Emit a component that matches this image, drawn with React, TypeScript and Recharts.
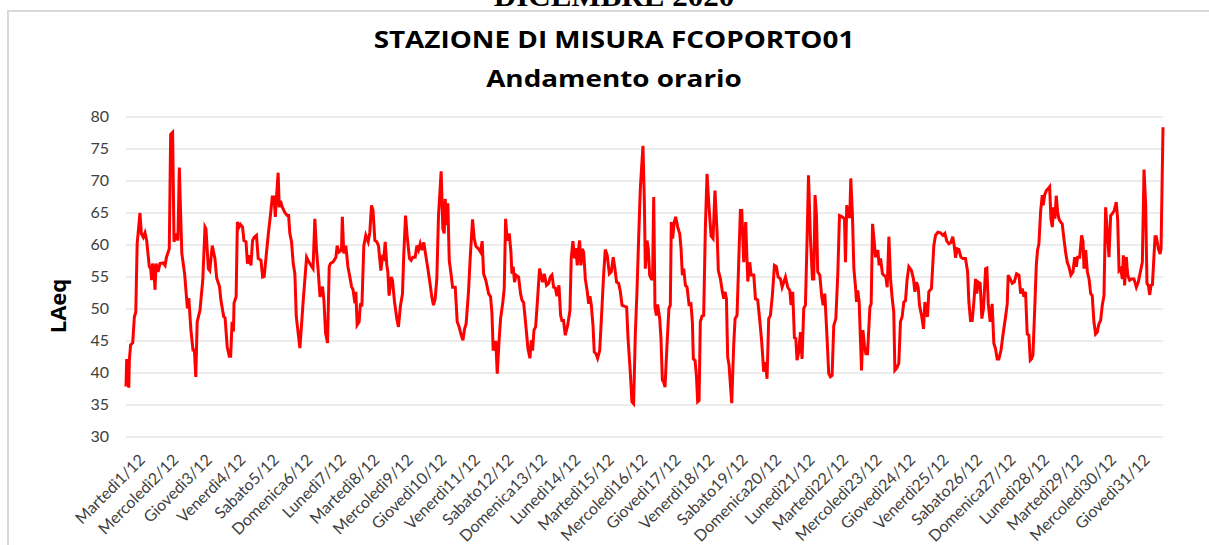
import React from "react";
import { LineChart, Line, XAxis, YAxis, CartesianGrid } from "recharts";

// one label per day, first hour of each day
const dayLabels = [
    "Martedì1/12", "Mercoledì2/12", "Giovedì3/12", "Venerdì4/12", "Sabato5/12",
    "Domenica6/12", "Lunedì7/12", "Martedì8/12", "Mercoledì9/12", "Giovedì10/12",
    "Venerdì11/12", "Sabato12/12", "Domenica13/12", "Lunedì14/12", "Martedì15/12",
    "Mercoledì16/12", "Giovedì17/12", "Venerdì18/12", "Sabato19/12", "Domenica20/12",
    "Lunedì21/12", "Martedì22/12", "Mercoledì23/12", "Giovedì24/12", "Venerdì25/12",
    "Sabato26/12", "Domenica27/12", "Lunedì28/12", "Martedì29/12", "Mercoledì30/12",
    "Giovedì31/12",
];
const dayTicks = dayLabels.map((_, i) => i * 24);
const yTicks = [30, 35, 40, 45, 50, 55, 60, 65, 70, 75, 80];

// hour of the month (0 = 1/12 00:00) and LAeq
const hours = [
    0, 0.5, 2, 2.4, 3.3, 4.8, 6, 7, 8, 10, 11, 12.4, 13.6, 14.8, 16.7, 17.7, 18.4, 19, 20, 20.8,
    21.5, 23, 24.3, 26.7, 28, 29, 31, 32, 33.4, 34.4, 35.8, 37.2, 38.2, 39, 40, 42, 44, 45, 46.5, 48,
    49, 50, 51, 53, 55, 56.6, 57.3, 59, 60, 61.8, 63.7, 65, 67, 68, 70, 71, 72.5, 74, 75, 76,
    77, 77.4, 78.9, 79.8, 81, 82, 83.5, 84.5, 86, 87, 88.3, 89.5, 90.7, 91.9, 93.5, 94.7, 96.7, 97.9, 99, 102,
    103.6, 104.8, 106, 107, 108, 109, 109.8, 110.7, 112, 113.8, 115.5, 116.5, 117.4, 118.6, 119.8, 121, 122, 124.6, 127, 129.4,
    131.7, 134, 135.3, 136.5, 137.7, 139, 140.8, 141.8, 143, 144.4, 145.6, 146.5, 148.5, 150.4, 151.3, 152.7, 154.4, 155, 156, 157.5,
    159, 160.4, 161.6, 162.7, 164, 164.7, 165.6, 167, 168, 169, 170.4, 171.8, 173.5, 174.7, 175.9, 177, 178.3,
    179.7, 180.9, 182.6, 183.8, 184.7, 185.7, 186.9, 187.6, 188.5, 190, 190.9, 192.4, 194, 195.2, 196.7, 198.1, 199, 200.3, 201.4, 203.1,
    204.3, 205.5, 207.2, 208.4, 209.6, 210.8, 212, 213.4, 214.4, 216.3, 218, 219.1, 220.3, 221.5, 222.7, 223.9, 225.8, 227, 228, 228.7,
    229.6, 230.6, 231.6, 233, 234, 235.9, 237.3, 238.7, 240.2, 241.4, 242.6, 243.7, 245.4, 246.6, 248.3, 249.5, 250.7, 252.6, 254, 255.2,
    256.2, 257.8, 259.8, 261.2, 262.2, 263.1, 264.1, 265, 266, 267.4, 268.4, 270, 271, 272, 273.1, 274.6, 275.8, 276.5, 277.4, 278.4,
    279.4, 281.3, 282.7, 283.7, 284.9, 286.5, 288, 289.4, 290.4, 291.3, 292.3, 293.5, 294.9, 296.3, 297.3, 298.5, 299.7, 301.3, 302.8, 304,
    305.2, 306.4, 307.6, 308.8, 310.2, 311.4, 312.3, 313.5, 314.7, 316.4, 318.1, 319, 320.2, 321.4, 322.4, 323.3, 324.3, 325, 325.9, 326.9,
    327.9, 329.1, 330.5, 331.5, 332.4, 333.4, 334.6, 335.5, 336.7, 337.9, 339.4, 341, 342.2, 343.4, 344.8, 346.3, 347.7, 349.1, 350.3, 351.5,
    353, 354.2, 355.4, 357.3, 358.7, 359.7, 361.3, 362.5, 363.7, 364.9, 366.1, 367.3, 368.5,
    370.4, 371.4, 372.1, 373.3, 374.2, 375.2, 376.4, 377.3, 378.1, 379, 380, 380.9, 382.4, 383.3, 384.3, 385.2, 386.2, 387.6, 389, 390,
    390.7, 391.7, 392.6, 393.8, 395.3, 396.7, 397.7, 398.6, 399.6, 400.8, 402, 403.4, 404.8, 405.8, 406.5, 407.7, 408.7, 409.6, 410.6, 411.5,
    412.7, 413.9, 415.1, 416.3, 417.5, 419.2, 420.6, 422, 423.5, 424.4, 425.9, 427.3, 428.3, 429.2, 430.2, 431.1, 432.1, 433, 434, 435.4,
    436.4, 437.8, 439, 440.2, 441.2, 442.6, 444, 445.5, 446.9, 447.9, 449.8, 451, 452.6, 454.1, 455.5, 456.9, 458.1, 459.3, 460.5, 461.7,
    463.1, 464.6, 466, 467.2, 468.9, 470.1, 471.3, 472.5, 474.1, 475.6, 476.5, 477.7, 478.9, 479.9, 480.8, 482, 483.2, 484.4, 485.6, 486.8,
    488, 489, 490.4, 491.8, 492.8, 493.7, 494.7, 495.6, 497.1, 498.5, 499.5, 500.7, 502.3, 503.5, 504.7, 505.9, 507.1, 508.6, 510, 511.2,
    513.1, 514.8, 515.5, 516.4, 517.6, 518.6, 519.3, 520.5, 521.5, 522.7, 523.4, 524.3, 525.3, 526.2, 527, 528, 529.1, 530.1, 531.3, 533,
    533.9, 534.9, 536.1, 537, 538.7, 539.6, 540.6, 542, 543, 544.4, 545.4, 546.6, 547.8, 549, 550.1, 550.9, 552.1, 553.7, 554.9, 556.1,
    557.3,
    558.5, 559.7, 560.9, 562.8, 564.2, 565.2, 566.4, 567.6, 568.5, 570, 571.4, 572.4, 573.3, 574.3, 575.2, 577.1, 578.8, 580, 581.7, 583.6,
    585.3, 586.7, 588.1, 589.6, 591, 592.4, 593.4, 594.4, 595.5, 596.7, 598.2, 599.6, 601.5, 603, 603.9, 605.1, 606.3, 607.5, 608.7, 609.6,
    610.6, 612, 613.2, 614.4, 615.9, 616.8, 617.8, 619.2, 620.6, 621.8, 623, 624.2, 625.4, 626.9, 628.3, 630.2, 631.4, 632.1, 633.5, 635,
    636.4, 638.1, 639.8, 641, 642.2, 643.3, 644.5, 645.7, 646.9, 647.9, 648.8, 649.8, 651.2, 652.2, 653.1, 654.1, 655.3, 656.5, 657.2, 658.2,
    659.4, 660.8, 661.8, 662.7, 663.7, 664.6, 665.6, 666.5, 667.5, 668.4, 669.6, 670.8, 672, 673.2, 674.4, 675.6, 677, 678.5, 679.7, 680.9,
    681.8, 683.3, 684.7, 685.7, 686.4, 687.6, 688.8, 690, 691.2, 692.3, 693.5, 694.7, 695.9, 697.1, 698.3, 699.5, 700.7, 701.9, 703.1, 704.3,
    705.5, 706.7, 708.1, 709.5, 710.5, 711.5, 712.7, 713.9, 714.6, 715.5, 716.7, 717.7, 719.1, 720.5, 722.2, 723.9, 725.3, 726.5, 728.2, 729.4,
    730.6, 731.5, 732.5, 733.5, 734.4, 735.4, 737.3, 738.2, 739.7, 740.9, 741.6, 743,
];
const laeq = [
    37.9, 42.2, 37.7, 42, 44.4, 44.7, 48.8, 49.5, 60.2, 65, 61.8, 61.2, 61.9, 60.7, 56.6, 56.3, 54.5, 57.1, 56, 53,
    57.1, 55.8, 57.1, 57.2, 56.8, 58.1, 59.4, 77.3, 77.6, 60.5, 61.8, 60.7, 72.1, 65.9, 58.7, 55.5, 50.1, 51.7, 46.7, 43.6,
    43.6, 39.4, 48, 49.8, 54.5, 62.8, 62.5, 56.3, 56, 59.9, 57.9, 54.8, 53.5, 51.4, 48.8, 48.6, 44.1, 42.6, 42.6, 48,
    46.5, 50.9, 51.9, 63.6, 62.8, 63.2, 62.8, 60.7, 60.5, 57.1, 58.4, 56.8, 60.7, 61.2, 61.5, 57.9, 57.6, 55, 55.1, 61.8,
    64.9, 67.5, 67.5, 64.4, 68, 71.3, 65.9, 66.9, 65.9, 65.1, 64.6, 64.6, 61.8, 60.5, 57.1, 55.5, 48.8, 43.9, 51.4, 58.1,
    57.1, 56.3, 64.1, 59.2, 56, 51.9, 53.5, 51.4, 46.2, 44.7, 56.6, 57.1, 57.4, 58.1, 59.9, 58.9, 59.2, 64.4, 58.7, 59.9,
    56.6, 55, 53.5, 53, 50.9, 52.7, 47.5, 48, 50.9, 50.4, 59.9, 61.5, 60.5, 62, 66.2, 65.4, 60.7,
    60.5, 59.9, 56, 58.1, 57.9, 60.5, 56.8, 55.8, 52.1, 55, 54.5, 51.1, 48.5, 47.2, 50.6, 52.4, 58.4, 64.6, 61.5, 57.9,
    57.6, 58.1, 58.1, 59.9, 59.2, 60.2, 59.2, 60.4, 58.9, 56.3, 53.7, 51.9, 50.6, 51.6, 54.7, 64.6, 71.5, 62.6, 61.8, 67.2,
    63.1, 66.5, 57.6, 55.3, 53.4, 53.4, 48, 47.2, 45.9, 45.1, 46.9, 47.7, 52.7, 57.9, 64, 61, 59.8, 59.4, 58.9, 60.6,
    55.5, 54.5, 52.4, 51.9, 49.3, 43.5, 44.8, 44.8, 39.9, 45.4, 48.5, 51.1, 53.2, 64.1, 60.7, 61.8, 58.9, 55.5, 56.6, 54.2,
    55.3, 55, 52.4, 51.4, 51, 47.4, 43.8, 42.3, 45.1, 43.5, 46.7, 47.2, 51.6, 56.3, 55.3, 54.2, 55.5, 53.7, 54, 55,
    55.3, 53.4, 53.3, 52, 53.7, 49, 48.2, 48.2, 45.9, 47.4, 49.8, 57.9, 60.6, 57.9, 59.5, 56.8, 59.4, 60.7, 56.8, 59.4,
    58.9, 54.7, 52.7, 50.8, 52, 50.6, 47.4, 43.3, 43, 42.3, 43.5, 50.1, 55.3, 59.3, 58.4, 55.5, 55.8, 58.1, 56.3, 54.2,
    54, 52.7, 50.6, 50.4, 50.3, 45.4, 40.2, 35.5, 35.2, 45.9, 52.7, 61, 68.8,
    75.5, 66.7, 56.3, 60.7, 59.4, 55.3, 54.7, 54.7, 67.5, 50.3, 49, 50.7, 48.5, 45.4, 38.9, 38.6, 37.8, 44.3, 50.1, 50.6,
    63.6, 61, 63.3, 64.4, 62.8, 61.8, 59.4, 55.3, 56.3, 53.7, 53.4, 50.7, 50.8, 48, 42.2, 42, 39.6, 35.5, 35.7, 48,
    48.9, 49, 62.6, 71.1, 66.7, 61.4, 61, 68.5, 62, 56, 54.7, 52.7, 51.6, 52.7, 51.6, 42.5, 41.2, 38.3, 35.3, 44.3,
    48.5, 49, 57.3, 65.4, 65.4, 57.3, 63.6, 54.3, 57.3, 55.3, 55.3, 51.6, 51.4, 48.2, 44.8, 40.2, 41.7, 39.1, 48.5, 49,
    52.1, 56.8, 56.6, 55, 54.7, 53.4, 54.2, 55, 53.4, 52.9, 50.6, 52.7, 45.5, 45.4, 42, 43.3, 46.4, 42.2, 50.1, 50.6,
    61, 70.9, 61, 54.7, 54.7, 67.8, 64.6, 55.8, 55.3, 51.9, 50.6, 52.4, 45.4, 39.9, 39.4, 39.6, 47.4, 48.5, 55.5, 64.6,
    64.4, 64.1, 57.3, 66.2, 64.4, 64.4, 70.4, 64.6, 56.3, 53.4, 51.1, 52.9, 51.1, 45.4, 40.4, 46.7, 44.3, 43, 43, 50.3,
    50.8, 63.3, 60.5, 58.1, 59.2, 56.8, 57.9, 55.5, 55.3, 55, 53.4, 61.3, 54.7, 51.6, 49.5, 40.4, 40.7, 41.5, 48, 48.8,
    51.1,
    51.3, 54.7, 56.6, 56, 54.7, 52.7, 54.2, 53.4, 50.6, 49, 46.9, 51.1, 49.5, 48.8, 52.7, 53.2, 59.9, 61.5, 62, 61.9,
    61.5, 61.8, 60.6, 60.2, 60.4, 61.3, 59.9, 58, 59.4, 59.3, 58.1, 57.9, 57.9, 55.8, 51.1, 48.2, 48.2, 51.1, 54.7, 52.4,
    54.2, 54, 48.5, 50.1, 56.3, 56.4, 50.8, 48, 50.8, 44.6, 43.8, 42.2, 42.2, 43.5, 45.9, 48.8, 50.8, 55.3, 54.7, 54,
    54.2, 55.5, 55.3, 52.4, 53.2, 51.9, 52.7, 46.1, 45.9, 42, 42.2, 42.8, 50.6, 56.8, 59.2, 60.2, 65.2, 67.8, 66.2, 67.8,
    68.5, 68.8, 69.1, 64.1, 62.8, 65.9, 64.1, 67.7, 65.2, 64.1, 63.6, 63.3, 61, 58.9, 57.3, 56.6, 55.3, 55.8, 58.1, 56.6,
    58.1, 58.1, 61.5, 60.5, 56.3, 59.2, 55.8, 54.7, 52.4, 52.1, 48, 46.1, 46.4, 47.7, 48.2, 50.6, 52.1, 65.9, 62, 58.1,
    64.6, 64.9, 65.4, 66.7, 64.1, 56, 56.3, 54.7, 58.4, 53.7, 58.1, 55.3, 54.5, 54.7, 54.7, 53.4, 54.2, 55.5, 57.3, 71.8,
    66.2, 54, 53.7, 52.2, 53.7, 53.8, 61.3, 61.3, 59.4, 58.6, 59.4, 78.4,
];

const data = hours.map((h, i) => ({ h, laeq: laeq[i] }));

const font = "Lato, 'Open Sans', sans-serif";
const titleFont = "'Open Sans', Lato, sans-serif";

function DayTick(props: any) {
    const { x, y, payload } = props;
    const tx = x + 20;
    const ty = y + 24;
    return (
        <text
            x={tx}
            y={ty}
            transform={`rotate(-45 ${tx} ${ty})`}
            textAnchor="end"
            fill="#404040"
            fontSize={16}
            fontFamily={font}
        >
            {dayLabels[Math.round(payload.value / 24)]}
        </text>
    );
}

function LevelTick(props: any) {
    const { x, y, payload } = props;
    return (
        <text
            x={x}
            y={y}
            dy={5}
            textAnchor="end"
            fill="#404040"
            fontSize={16}
            fontFamily={font}
        >
            {payload.value}
        </text>
    );
}

export default function App() {
    return (
        <div
            style={{
                position: "absolute",
                left: 0,
                top: 0,
                width: 1209,
                height: 545,
                background: "#fff",
                overflow: "hidden",
            }}
        >
            <div
                style={{
                    position: "absolute",
                    left: 7,
                    top: 10,
                    width: 1230,
                    height: 560,
                    borderLeft: "2px solid #d9d9d9",
                    borderTop: "2px solid #d9d9d9",
                }}
            />
            <div
                style={{
                    position: "absolute",
                    left: 0,
                    width: 1228,
                    top: -21,
                    textAlign: "center",
                    fontFamily: "'Liberation Serif', serif",
                    fontWeight: "bold",
                    fontSize: 29,
                    lineHeight: "34px",
                    transform: "scaleX(1.07)",
                }}
            >
                DICEMBRE 2020
            </div>
            <div
                style={{
                    position: "absolute",
                    left: 0,
                    width: 1228,
                    top: 19,
                    textAlign: "center",
                    fontFamily: titleFont,
                    fontWeight: "bold",
                    fontSize: 24,
                    lineHeight: "39px",
                    color: "#000",
                    transform: "scaleX(1.16)",
                }}
            >
                STAZIONE DI MISURA FCOPORTO01
                <br />
                Andamento orario
            </div>
            <div
                style={{
                    position: "absolute",
                    left: 57,
                    top: 306,
                    transform: "translate(-50%, -50%) rotate(-90deg)",
                    fontFamily: titleFont,
                    fontWeight: "bold",
                    fontSize: 22,
                    whiteSpace: "nowrap",
                }}
            >
                LAeq
            </div>
            <div style={{ position: "absolute", left: 0, top: 0 }}>
                <LineChart
                    width={1209}
                    height={545}
                    data={data}
                    margin={{ top: 117, right: 46, bottom: 0, left: 0 }}
                >
                    <CartesianGrid vertical={false} stroke="#d9d9d9" strokeWidth={1} />
                    <XAxis
                        dataKey="h"
                        type="number"
                        domain={[0, 743]}
                        ticks={dayTicks}
                        interval={0}
                        height={108}
                        tickLine={false}
                        axisLine={false}
                        tickSize={0}
                        tickMargin={0}
                        tick={<DayTick />}
                    />
                    <YAxis
                        domain={[30, 80]}
                        ticks={yTicks}
                        width={126}
                        tickLine={false}
                        axisLine={false}
                        tickSize={0}
                        tickMargin={17}
                        tick={<LevelTick />}
                    />
                    <Line
                        type="linear"
                        dataKey="laeq"
                        stroke="#ff0000"
                        strokeWidth={3}
                        dot={false}
                        isAnimationActive={false}
                    />
                </LineChart>
            </div>
        </div>
    );
}
